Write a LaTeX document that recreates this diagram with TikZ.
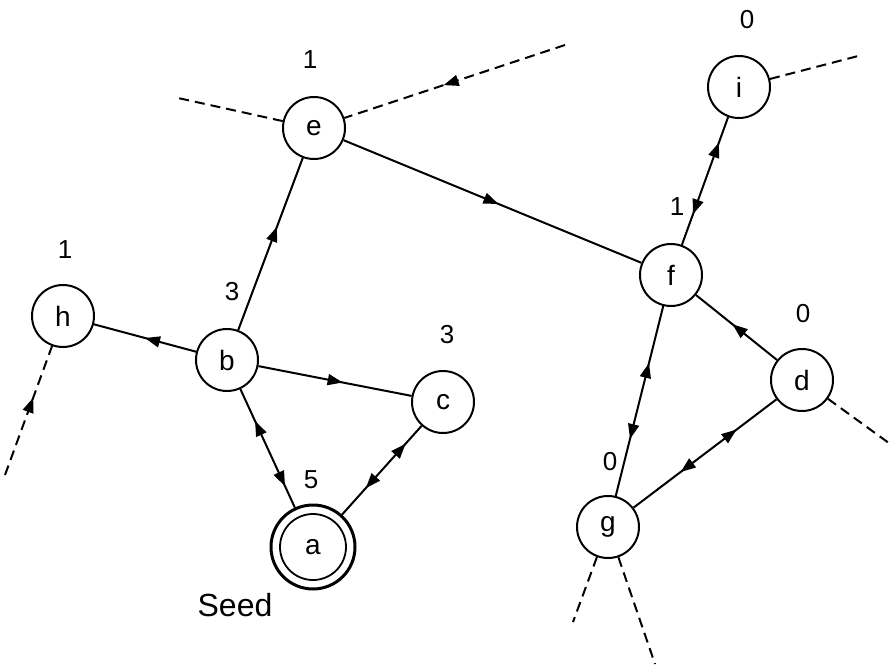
\documentclass[tikz,border=0pt]{standalone}
\usepackage{fontspec}
\setmainfont{Liberation Sans}
\usetikzlibrary{arrows.meta,decorations.markings}
\tikzset{
  vtx/.style={circle, draw, line width=2pt, minimum size=62pt, inner sep=0pt, font=\fontsize{28}{28}\selectfont},
  seed/.style={circle, draw, line width=3pt, minimum size=84pt, inner sep=0pt, font=\fontsize{28}{28}\selectfont},
  num/.style={font=\fontsize{26}{26}\selectfont, inner sep=0pt},
  captxt/.style={font=\fontsize{32}{32}\selectfont, inner sep=0pt},
  sline/.style={line width=2pt},
  dsh/.style={line width=2pt, dash pattern=on 10pt off 6pt},
  tri/.tip={Triangle[length=15pt,width=11pt]},
  fwd/.style={postaction={decorate}, decoration={markings, mark=at position #1 with {\arrow{tri}}}},
  fwd/.default=0.55,
  bid/.style 2 args={postaction={decorate}, decoration={markings,
     mark=at position #1 with {\arrowreversed{tri}},
     mark=at position #2 with {\arrow{tri}}}},
}
\begin{document}
\begin{tikzpicture}[x=1pt,y=-1pt]
\useasboundingbox (0,0) rectangle (891,666);
% nodes
\node[vtx] (e) at (314,128) {e};
\node[vtx] (i) at (739,87) {i};
\node[vtx] (f) at (671,275) {f};
\node[vtx] (h) at (63,316) {h};
\node[vtx] (b) at (227,360) {b};
\node[vtx] (c) at (443,402) {c};
\node[vtx] (d) at (802,380) {d};
\node[vtx] (g) at (608,527) {g};
\node[seed] (a) at (313,547) {a};
\draw[line width=1.8pt] (a.center) circle[radius=33pt];
% labels
\node[num] (le) at (310,60) {1};
\node[num] (li) at (747,20) {0};
\node[num] (lf) at (677,207) {1};
\node[num] (lh) at (65,250) {1};
\node[num] (lb) at (232,292) {3};
\node[num] (lc) at (447,335) {3};
\node[num] (ld) at (803,314) {0};
\node[num] (lg) at (610,462) {0};
\node[num] (la) at (311,480) {5};
\node[captxt] (ls) at (235,605) {Seed};
% free ends
\coordinate (eL) at (178,98);
\coordinate (eR) at (565,45);
\coordinate (iR) at (862,55);
\coordinate (hD) at (5,475);
\coordinate (dR) at (893,446);
\coordinate (gL) at (573,622);
\coordinate (gR) at (655,664);
% solid edges
\draw[sline, fwd=0.52] (e) -- (f);
\draw[sline, fwd=0.6] (b) -- (e);
\draw[sline, fwd=0.5] (b) -- (h);
\draw[sline, fwd=0.55] (b) -- (c);
\draw[sline, fwd=0.55] (d) -- (f);
\draw[sline, bid={0.27}{0.82}] (b) -- (a);
\draw[sline, bid={0.3}{0.8}] (a) -- (c);
\draw[sline, bid={0.24}{0.8}] (f) -- (i);
\draw[sline, bid={0.3}{0.7}] (f) -- (g);
\draw[sline, bid={0.33}{0.72}] (g) -- (d);
% dashed edges
\draw[dsh] (e) -- (eL);
\draw[dsh, fwd=0.55] (eR) -- (e);
\draw[dsh] (i) -- (iR);
\draw[dsh, fwd=0.6] (hD) -- (h);
\draw[dsh] (d) -- (dR);
\draw[dsh] (g) -- (gL);
\draw[dsh] (g) -- (gR);
\end{tikzpicture}
\end{document}
